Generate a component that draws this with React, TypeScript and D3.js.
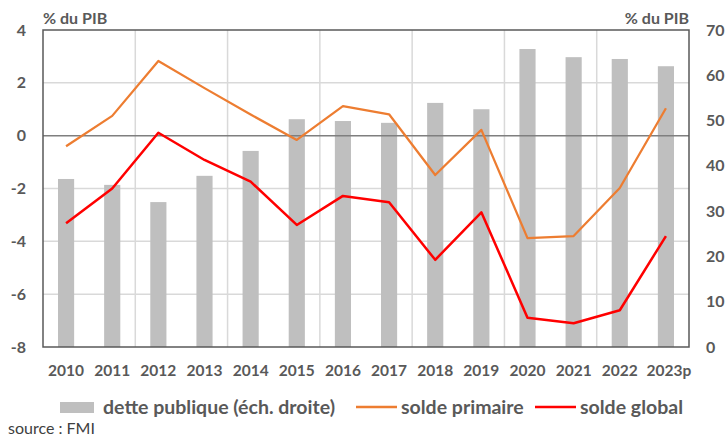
import React from "react";
import * as d3 from "d3";

const years = ["2010","2011","2012","2013","2014","2015","2016","2017","2018","2019","2020","2021","2022","2023p"];
const dette = [37.1, 35.8, 32.0, 37.8, 43.3, 50.3, 49.9, 49.5, 53.9, 52.5, 65.8, 64.0, 63.6, 62.0];
const soldePrimaire = [-0.4, 0.75, 2.83, 1.8, 0.8, -0.16, 1.12, 0.81, -1.49, 0.22, -3.88, -3.8, -1.98, 1.04];
const soldeGlobal = [-3.32, -2.0, 0.11, -0.92, -1.74, -3.38, -2.28, -2.52, -4.7, -2.9, -6.89, -7.1, -6.61, -3.8];
const leftTicks = [-8, -6, -4, -2, 0, 2, 4];
const rightTicks = [0, 10, 20, 30, 40, 50, 60, 70];

const W = 728, H = 437;
const L = 43, R = 689, T = 30, B = 347;
const FONT = "Lato, 'Liberation Sans', sans-serif";
const GREY = "#595959";

export default function App() {
  const x = d3.scaleBand<string>().domain(years).range([L, R]).padding(0);
  const bw = x.bandwidth();
  const cx = (y: string) => (x(y) as number) + bw / 2;
  const yL = d3.scaleLinear().domain([-8, 4]).range([B, T]);
  const yR = d3.scaleLinear().domain([0, 70]).range([B, T]);
  const barW = bw * 0.35;

  const lineL = d3.line<number>().x((_, i) => cx(years[i])).y((d) => yL(d));

  const vGrid: number[] = [];
  years.forEach((y, i) => { if (i % 2 === 0 && i > 0) vGrid.push(x(y) as number); });

  return (
    <div style={{ position: "absolute", left: 0, top: 0 }}>
      <svg width={W} height={H} style={{ display: "block", background: "#fff" }}>
        {leftTicks.filter((t) => t !== 0 && t !== 4 && t !== -8).map((t) => (
          <line key={"h" + t} x1={L} x2={R} y1={yL(t)} y2={yL(t)} stroke="#D9D9D9" strokeWidth={1.5} />
        ))}
        {vGrid.map((g, i) => (
          <line key={"v" + i} x1={g} x2={g} y1={T} y2={B} stroke="#D9D9D9" strokeWidth={1.5} />
        ))}
        {years.map((y, i) => (
          <rect key={"b" + y} x={cx(y) - barW / 2} y={yR(dette[i])} width={barW} height={B - yR(dette[i])} fill="#BFBFBF" />
        ))}
        <line x1={L} x2={R} y1={yL(0)} y2={yL(0)} stroke="#7F7F7F" strokeWidth={1.5} />
        <path d={lineL(soldePrimaire) || ""} fill="none" stroke="#ED7D31" strokeWidth={2.25} strokeLinejoin="round" />
        <path d={lineL(soldeGlobal) || ""} fill="none" stroke="#FF0000" strokeWidth={2.5} strokeLinejoin="round" />
        <rect x={L} y={T} width={R - L} height={B - T} fill="none" stroke={GREY} strokeWidth={1.5} />
        {leftTicks.map((t) => (
          <text key={"lt" + t} x={26} y={yL(t)} dy="0.35em" textAnchor="end" fontFamily={FONT} fontWeight="bold" fontSize={16} fill={GREY}>{t}</text>
        ))}
        {rightTicks.map((t) => (
          <text key={"rt" + t} x={706} y={yR(t)} dy="0.35em" textAnchor="start" fontFamily={FONT} fontWeight="bold" fontSize={16} fill={GREY}>{t}</text>
        ))}
        <text x={L} y={24} fontFamily={FONT} fontWeight="bold" fontSize={16} fill={GREY}>% du PIB</text>
        <text x={R} y={24} textAnchor="end" fontFamily={FONT} fontWeight="bold" fontSize={16} fill={GREY}>% du PIB</text>
        {years.map((y) => (
          <text key={"xl" + y} x={cx(y) + (y.length > 4 ? 3 : 0)} y={376} textAnchor="middle" fontFamily={FONT} fontWeight="bold" fontSize={15.5} fill={GREY}>{y}</text>
        ))}
        <rect x={60} y={402} width={34} height={11} fill="#BFBFBF" />
        <text x={103} y={414} fontFamily={FONT} fontWeight="bold" fontSize={19.5} fill={GREY}>dette publique (éch. droite)</text>
        <line x1={356} x2={397} y1={407} y2={407} stroke="#ED7D31" strokeWidth={2.5} />
        <text x={401} y={414} fontFamily={FONT} fontWeight="bold" fontSize={19.5} fill={GREY}>solde primaire</text>
        <line x1={535} x2={576} y1={407} y2={407} stroke="#FF0000" strokeWidth={2.5} />
        <text x={580} y={414} fontFamily={FONT} fontWeight="bold" fontSize={19.5} fill={GREY}>solde global</text>
        <text x={8} y={434} fontFamily={FONT} fontSize={16} fill="#404040">source : FMI</text>
      </svg>
    </div>
  );
}
